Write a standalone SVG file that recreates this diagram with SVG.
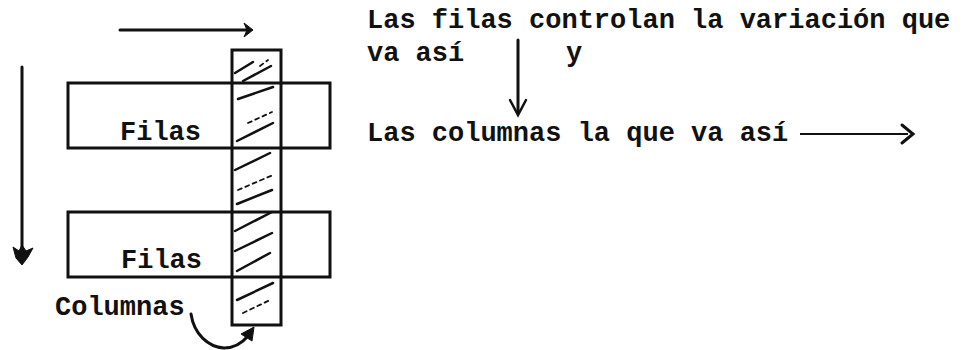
<svg xmlns="http://www.w3.org/2000/svg" width="970" height="350" viewBox="0 0 970 350">
<defs>
<style>
.t{font-family:"Liberation Mono","Courier New",monospace;font-size:27px;font-weight:bold;fill:#111}
.box{fill:none;stroke:#111;stroke-width:3}
.ln{fill:none;stroke:#111;stroke-width:3;stroke-linecap:round}
.h{stroke:#111;stroke-width:2.5;stroke-linecap:round}
.hd{stroke:#111;stroke-width:1.8;stroke-linecap:round;stroke-dasharray:4 4}
.head{fill:#111;stroke:#111;stroke-width:1;stroke-linejoin:round}
</style>
<clipPath id="colclip"><rect x="233" y="51" width="48" height="273"/></clipPath>
</defs>
<rect width="970" height="350" fill="#fff"/>

<g id="column">
<g clip-path="url(#colclip)">
<line class="h" x1="235" y1="73" x2="253" y2="62"/>
<line class="h" x1="243" y1="81" x2="271" y2="66"/>
<line class="hd" x1="260" y1="66" x2="268" y2="60"/>
<line class="h" x1="238" y1="99" x2="273" y2="87"/>
<line class="hd" x1="248" y1="123" x2="272" y2="112"/>
<line class="h" x1="237" y1="141" x2="273" y2="123"/>
<line class="h" x1="235" y1="170" x2="270" y2="153"/>
<line class="hd" x1="238" y1="190" x2="273" y2="175"/>
<line class="h" x1="237" y1="204" x2="272" y2="190"/>
<line class="h" x1="235" y1="231" x2="272" y2="212"/>
<line class="h" x1="235" y1="251" x2="272" y2="233"/>
<line class="h" x1="237" y1="271" x2="270" y2="253"/>
<line class="h" x1="237" y1="300" x2="273" y2="283"/>
<line class="hd" x1="243" y1="313" x2="270" y2="300"/>
</g>
<rect class="box" x="232" y="50" width="49" height="275"/>
</g>

<g id="row1">
<rect class="box" x="68" y="83" width="262" height="65"/>
<text class="t" x="120" y="140">Filas</text>
</g>

<g id="row2">
<rect class="box" x="68" y="212" width="262" height="65"/>
<text class="t" x="121" y="268">Filas</text>
</g>

<g id="columnas-label">
<text class="t" x="55" y="315">Columnas</text>
</g>

<g id="text-block">
<text class="t" x="367" y="28">Las filas controlan la variación que</text>
<text class="t" x="367" y="61">va así</text>
<text class="t" x="566" y="61">y</text>
<text class="t" x="367" y="141">Las columnas la que va así</text>
</g>

<g id="connectors">
<line class="ln" x1="120" y1="30" x2="248" y2="30"/>
<path class="head" d="M244,23 L253,30 L244,37 L247,30 Z"/>
<line class="ln" x1="22" y1="67" x2="22" y2="255"/>
<path class="head" d="M13,247 L19,251 L22,245 L26,251 L33,248 L28,257 L22,265 L16,258 Z"/>
<line class="ln" x1="518" y1="40" x2="518" y2="113"/>
<path class="ln" d="M510,100 L518,115 L526,100" style="stroke-width:2.5"/>
<line x1="800" y1="134" x2="908" y2="134" stroke="#111" stroke-width="2"/>
<path class="ln" d="M902,125 L913,134 L902,143" style="stroke-width:3"/>
<path class="ln" d="M191,314 C194,334 208,347 224,348 C236,348 243,342 248,336"/>
<path class="head" d="M241,334 L254,327 L252,341 Z"/>
</g>
</svg>
